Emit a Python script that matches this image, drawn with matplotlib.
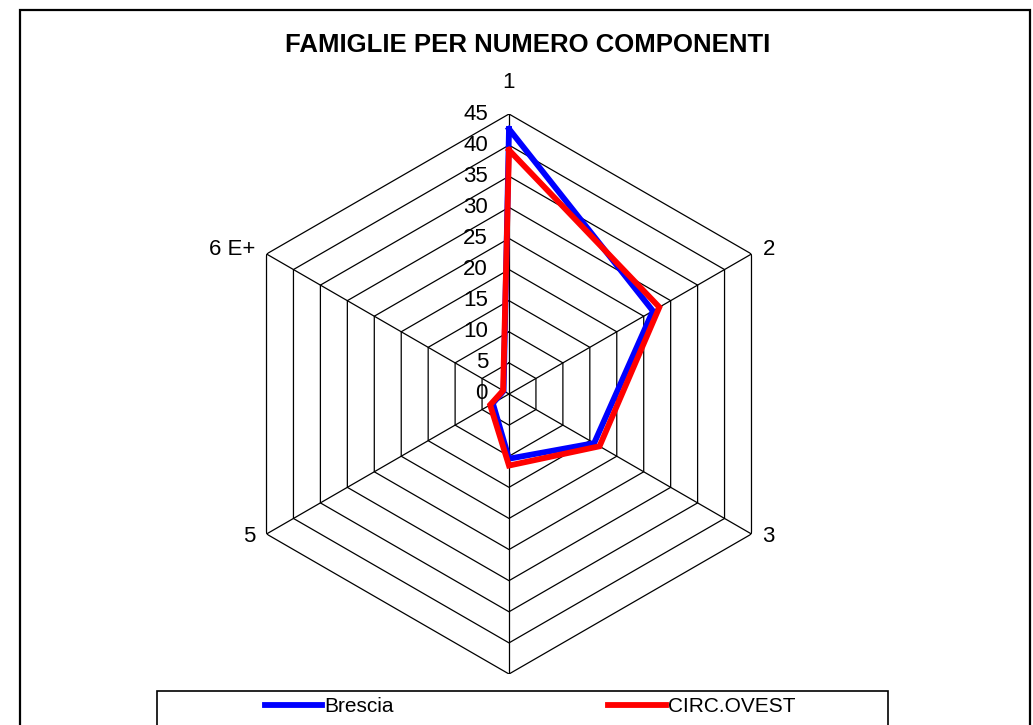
import numpy as np
import matplotlib
matplotlib.use("Agg")
import matplotlib.pyplot as plt
from matplotlib.lines import Line2D
from matplotlib.patches import Rectangle

plt.rcParams['font.family'] = ['Liberation Sans', 'DejaVu Sans']

categories = ["1", "2", "3", "4", "5", "6 E+"]
brescia = [42.6, 26.7, 15.8, 10.4, 3.0, 1.0]
circ_ovest = [39.2, 27.9, 16.8, 11.5, 3.5, 1.1]
rticks = [0, 5, 10, 15, 20, 25, 30, 35, 40, 45]
rmax = 45

fig = plt.figure(figsize=(10.33, 7.25), dpi=100)
W, H = 1033, 725

# outer chart frame
fig.patches.append(Rectangle((20 / W, -0.05), (1030 - 20) / W, (715 / H) + 0.05,
                             transform=fig.transFigure, fill=False,
                             edgecolor='black', linewidth=1.6))

cx, cy, R = 509, 394, 280
ax = fig.add_axes([(cx - R) / W, (H - cy - R) / H, 2 * R / W, 2 * R / H],
                  projection='polar')
ax.set_theta_offset(np.pi / 2)
ax.set_theta_direction(-1)
ax.set_ylim(0, rmax)
ax.grid(False)
ax.spines['polar'].set_visible(False)
ax.set_xticks([])
ax.set_yticks([])
ax.patch.set_alpha(0)

n = len(categories)
theta = np.arange(n) * 2 * np.pi / n
theta_c = np.append(theta, theta[0])

# hexagonal gridlines
for r in rticks[1:]:
    ax.plot(theta_c, [r] * (n + 1), color='black', linewidth=0.9, zorder=1)
for t in theta:
    ax.plot([t, t], [0, rmax], color='black', linewidth=0.9, zorder=1)

# data series
ax.plot(theta_c, brescia + brescia[:1], color='#0000FF', linewidth=4.2,
        zorder=3, solid_joinstyle='miter')
ax.plot(theta_c, circ_ovest + circ_ovest[:1], color='#FF0000', linewidth=4.2,
        zorder=4, solid_joinstyle='miter')

# radial value labels along the first spoke
for r in rticks:
    ax.annotate(str(r), xy=(0, r), xytext=(-21, 0), textcoords='offset pixels',
                ha='right', va='center', fontsize=16, zorder=5)

# category labels
offsets = {0: (0, 31, 'center', 'center'),
           1: (11, 4, 'left', 'center'),
           2: (11, -3, 'left', 'center'),
           4: (-11, -3, 'right', 'center'),
           5: (-11, 4, 'right', 'center')}
for i, lab in enumerate(categories):
    if i not in offsets:
        continue
    dx, dy, ha, va = offsets[i]
    ax.annotate(lab, xy=(theta[i], rmax), xytext=(dx, dy),
                textcoords='offset pixels', ha=ha, va=va, fontsize=16)

fig.text(528 / W, 1 - 45 / H, "FAMIGLIE PER NUMERO COMPONENTI",
         ha='center', va='center', fontsize=18.5, fontweight='bold')

# legend box
fig.patches.append(Rectangle((157 / W, -0.05), (888 - 157) / W, (1 - 691 / H) + 0.05,
                             transform=fig.transFigure, fill=False,
                             edgecolor='black', linewidth=1.2))
handles = [Line2D([], [], color='#0000FF', linewidth=4.2),
           Line2D([], [], color='#FF0000', linewidth=4.2)]
fig.legend(handles, ["Brescia", "CIRC.OVEST"], loc='center left',
           bbox_to_anchor=(265 / W, 1 - 707 / H), ncol=2, frameon=False,
           handlelength=2.75, handletextpad=0.1, columnspacing=10.3,
           borderpad=0, borderaxespad=0, prop={'size': 15})

fig.savefig("out.png", dpi=100)
